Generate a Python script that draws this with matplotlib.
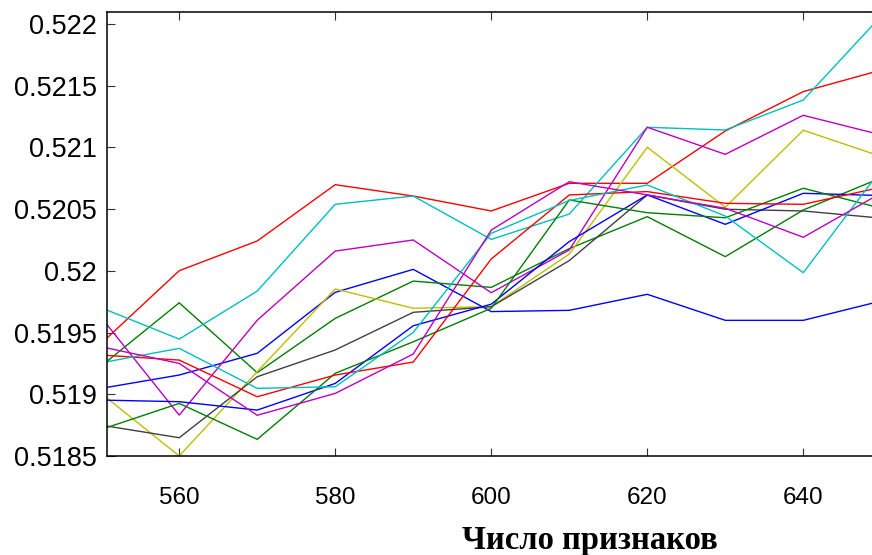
import matplotlib
matplotlib.use("Agg")
import matplotlib.pyplot as plt
import numpy as np

# Number of features on the x axis
features = [550, 560, 570, 580, 590, 600, 610, 620, 630, 640, 650]

# One accuracy curve per run
blue_1 = [0.519048, 0.519156, 0.519332, 0.519826, 0.520012, 0.519670, 0.519680, 0.519810, 0.519599, 0.519599, 0.519756]
green_1 = [0.519229, 0.519741, 0.519175, 0.519615, 0.519917, 0.519866, 0.520180, 0.520439, 0.520115, 0.520493, 0.520754]
red_1 = [0.519412, 0.520001, 0.520242, 0.520698, 0.520606, 0.520485, 0.520709, 0.520709, 0.521133, 0.521452, 0.521627]
cyan_1 = [0.519701, 0.519447, 0.519836, 0.520539, 0.520606, 0.520255, 0.520460, 0.521163, 0.521141, 0.521384, 0.522066]
magenta_1 = [0.519623, 0.518831, 0.519600, 0.520160, 0.520250, 0.519823, 0.520169, 0.521163, 0.520944, 0.521260, 0.521101]
yellow_1 = [0.519007, 0.518500, 0.519183, 0.519853, 0.519697, 0.519710, 0.520136, 0.521001, 0.520515, 0.521139, 0.520926]
gray_1 = [0.518750, 0.518648, 0.519142, 0.519359, 0.519664, 0.519709, 0.520083, 0.520615, 0.520499, 0.520485, 0.520427]
blue_2 = [0.518953, 0.518940, 0.518872, 0.519088, 0.519555, 0.519730, 0.520237, 0.520615, 0.520377, 0.520628, 0.520610]
green_2 = [0.518715, 0.518926, 0.518635, 0.519170, 0.519425, 0.519697, 0.520574, 0.520471, 0.520430, 0.520669, 0.520507]
red_2 = [0.519318, 0.519277, 0.518980, 0.519156, 0.519261, 0.520096, 0.520615, 0.520642, 0.520547, 0.520539, 0.520677]
cyan_2 = [0.519255, 0.519372, 0.519048, 0.519061, 0.519501, 0.520304, 0.520570, 0.520696, 0.520444, 0.519985, 0.520823]
magenta_2 = [0.519385, 0.519250, 0.518830, 0.519007, 0.519326, 0.520330, 0.520722, 0.520615, 0.520507, 0.520272, 0.520631]

x_ticks = [560, 580, 600, 620, 640]
y_ticks = [0.5185, 0.519, 0.5195, 0.52, 0.5205, 0.521, 0.5215, 0.522]
y_tick_labels = ["0.5185", "0.519", "0.5195", "0.52", "0.5205", "0.521", "0.5215", "0.522"]
x_label = "Число признаков"

series = [blue_1, green_1, red_1, cyan_1, magenta_1, yellow_1, gray_1,
          blue_2, green_2, red_2, cyan_2, magenta_2]
palette = ["#0000ff", "#008000", "#ff0000", "#00bfbf", "#bf00bf", "#bfbf00", "#404040"]

fig = plt.figure(figsize=(8.72, 5.55), dpi=100)
ax = fig.add_axes([106.5 / 872, 99 / 555, 774.8 / 872, 444.5 / 555])

for i, values in enumerate(series):
    ax.plot(features, values, color=palette[i % len(palette)], lw=1.0,
            solid_joinstyle="miter", clip_on=True)

ax.set_xlim(550.68, 650)
ax.set_ylim(0.5185, 0.522101)

ax.set_xticks(x_ticks)
ax.set_xticklabels([str(t) for t in x_ticks],
                   fontfamily=["Liberation Sans Narrow", "Liberation Sans"], fontsize=17.5)
ax.set_yticks(y_ticks)
ax.set_yticklabels(y_tick_labels, fontfamily="Liberation Sans", fontsize=19.5)

ax.tick_params(axis="both", direction="in", length=5.5, width=0.8, color="#333333",
               top=True, right=True)
ax.tick_params(axis="y", pad=6.8)
ax.tick_params(axis="x", pad=22)

for side in ax.spines.values():
    side.set_linewidth(1.1)
    side.set_color("black")

ax.set_xlabel(x_label, fontfamily="Liberation Serif", fontweight="bold", fontsize=23.5)
ax.xaxis.set_label_coords((590 - 106.5) / 774.8, (456 - 541) / 444.5)
ax.xaxis.label.set_verticalalignment("center")

fig.savefig("out.png", dpi=100)
